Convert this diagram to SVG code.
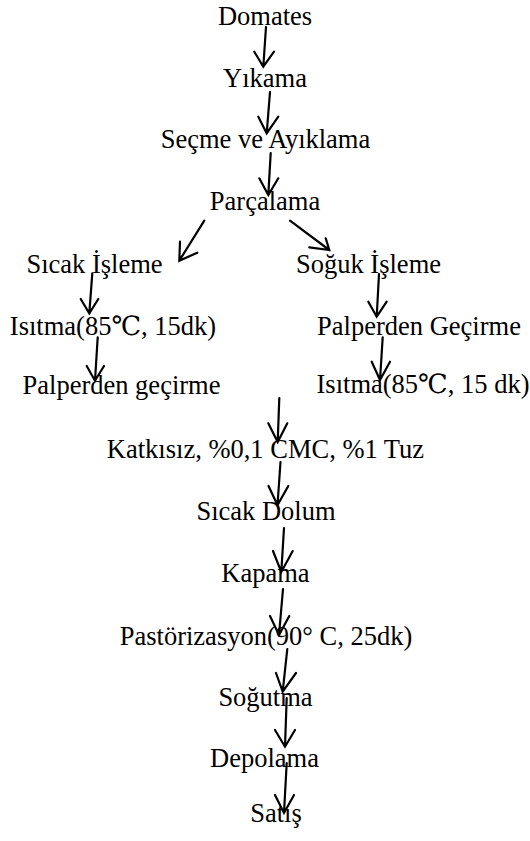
<svg xmlns="http://www.w3.org/2000/svg" width="530" height="841" viewBox="0 0 530 841">
<style>
text{font-family:"Liberation Serif","Times New Roman","DejaVu Serif",serif;font-size:26.5px;fill:#000;text-anchor:middle}
.a{stroke:#000;stroke-width:2.2;fill:none;stroke-linecap:round;stroke-linejoin:miter}
</style>
<rect width="530" height="841" fill="#fff"/>
<g id="connectors">
<path class="a" d="M266,27 L263.3,66.7 M254.3,51.7 L263.3,66.7 L274,51.7"/>
<path class="a" d="M270,92 L266.7,133.3 M258.3,116.7 L266.7,133.3 L278.3,116.7"/>
<path class="a" d="M270.7,153 L268.3,195 M259.3,178.3 L268.3,195 L278.3,178.3"/>
<path class="a" d="M204.3,220.7 L179.3,260.7 M180,241.7 L179.3,260.7 L197.3,252.7"/>
<path class="a" d="M290,220.7 L329.3,250 M309.3,247.3 L329.3,250 L325.7,238.3"/>
<path class="a" d="M92.3,273.3 L89.3,313.3 M80.7,299 L89.3,313.3 L98.3,299"/>
<path class="a" d="M97.7,337.3 L95,380.7 M86.7,366 L95,380.7 L104,366"/>
<path class="a" d="M379,274 L376.7,316.7 M368.3,301.7 L376.7,316.7 L386.7,301.7"/>
<path class="a" d="M382.7,337.3 L380,380 M371.7,361.7 L380,380 L390,361.7"/>
<path class="a" d="M279.3,398 L277.7,442 M268.3,423.3 L277.7,442 L287.3,423.3"/>
<path class="a" d="M280.5,462 L277.5,505 M268.5,486 L277.5,505 L288.3,486"/>
<path class="a" d="M284,528 L281.3,572 M273,551 L281.3,572 L292.7,551"/>
<path class="a" d="M283,589 L279,635 M270,616 L279,635 L289.3,616"/>
<path class="a" d="M287.3,649 L282.7,691.7 M276,673 L282.7,691.7 L296,673"/>
<path class="a" d="M286.7,698 L285,746.7 M275,730 L285,746.7 L295,730"/>
<path class="a" d="M286.7,763 L284,813 M275,795 L284,813 L294,795"/>
</g>
<g id="n1"><text x="265" y="25">Domates</text></g>
<g id="n2"><text x="265" y="87">Yıkama</text></g>
<g id="n3"><text x="265.5" y="148">Seçme ve Ayıklama</text></g>
<g id="n4"><text x="265" y="210">Parçalama</text></g>
<g id="n5"><text x="94.5" y="273">Sıcak İşleme</text></g>
<g id="n6"><text x="368.5" y="273">Soğuk İşleme</text></g>
<g id="n7"><text x="113" y="335">Isıtma(85℃, 15dk)</text></g>
<g id="n8"><text x="419" y="335">Palperden Geçirme</text></g>
<g id="n9"><text x="121.5" y="394">Palperden geçirme</text></g>
<g id="n10"><text x="423" y="393">Isıtma(85℃, 15 dk)</text></g>
<g id="n11"><text x="265.5" y="458">Katkısız, %0,1 CMC, %1 Tuz</text></g>
<g id="n12"><text x="266" y="520">Sıcak Dolum</text></g>
<g id="n13"><text x="265.5" y="582">Kapama</text></g>
<g id="n14"><text x="266" y="645">Pastörizasyon(90° C, 25dk)</text></g>
<g id="n15"><text x="265.5" y="706">Soğutma</text></g>
<g id="n16"><text x="264.5" y="767">Depolama</text></g>
<g id="n17"><text x="276" y="822">Satış</text></g>
</svg>
